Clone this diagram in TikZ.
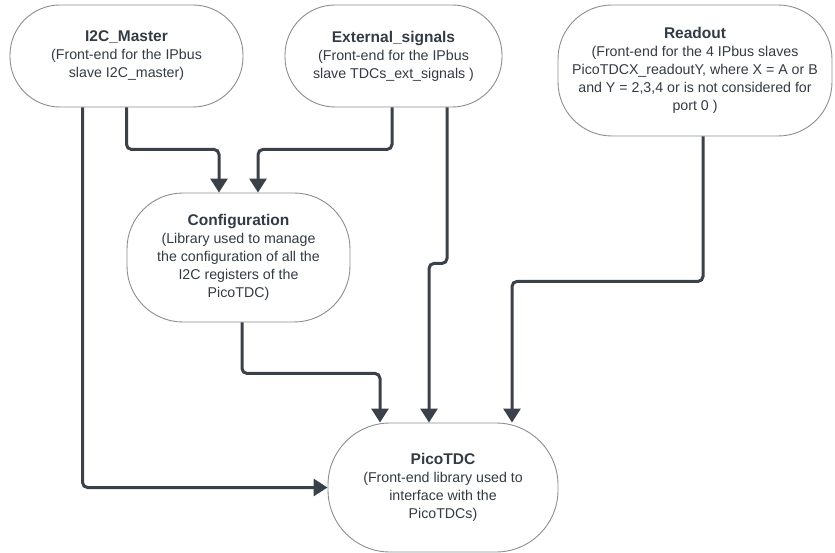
\documentclass[tikz,border=0pt]{standalone}
\usepackage{fontspec}
\setmainfont{Liberation Sans}
\usetikzlibrary{arrows.meta}

\definecolor{inkgray}{HTML}{333B44}
\definecolor{edgegray}{HTML}{8A8D91}
\definecolor{wiregray}{HTML}{3B4149}

\tikzset{
  x=1pt, y=-1pt,
  block/.style={draw=edgegray, line width=0.9pt, fill=white, text=inkgray,
    align=center, inner sep=0pt,
    font=\fontsize{14.2}{18}\selectfont},
  conn/.style={draw=wiregray, line width=3pt, rounded corners=5pt,
    -{Triangle[width=17pt,length=14pt]}},
}
\newcommand{\blocktitle}[1]{{\fontsize{15.5}{18}\selectfont\bfseries #1}}

\begin{document}
\begin{tikzpicture}
\useasboundingbox (0,0) rectangle (835,553);

% blocks
\node[block, minimum width=233pt, minimum height=102pt, rounded corners=50pt]
  (i2c) at (126.5,56)
  {\blocktitle{I2C\_Master}\\(Front-end for the IPbus\\slave I2C\_master)};
\node[block, minimum width=217pt, minimum height=102pt, rounded corners=50pt]
  (ext) at (393.5,56)
  {\blocktitle{External\_signals}\\(Front-end for the IPbus\\slave TDCs\_ext\_signals )};
\node[block, minimum width=274pt, minimum height=131pt, rounded corners=54pt]
  (readout) at (695,70.5)
  {\blocktitle{Readout}\\(Front-end for the 4 IPbus slaves\\PicoTDCX\_readoutY, where X = A or B\\and Y = 2,3,4 or is not considered for\\port 0 )};
\node[block, minimum width=223pt, minimum height=129pt, rounded corners=56pt]
  (config) at (238.5,257.5)
  {\blocktitle{Configuration}\\(Library used to manage\\the configuration of all the\\I2C registers of the\\PicoTDC)};
\node[block, minimum width=230pt, minimum height=129pt, rounded corners=62pt]
  (pico) at (443,487.5)
  {\blocktitle{PicoTDC}\\(Front-end library used to\\interface with the\\PicoTDCs)};

% connectors
\draw[conn] ([xshift=73pt]i2c.south west) |- (pico.west);
\draw[conn] (i2c.south) -- ++(0,42) -| ([xshift=-19.5pt]config.north);
\draw[conn] ([xshift=-1.5pt]ext.south) -- ++(0,42) -| ([xshift=19.5pt]config.north);
\draw[conn] ([xshift=53.5pt]ext.south) -- ++(0,156) -| ([xshift=-14pt]pico.north);
\draw[conn] ([xshift=3.5pt]config.south) -- ++(0,51) -| ([xshift=-63pt]pico.north);
\draw[conn] ([xshift=8pt]readout.south) -- ++(0,145) -| ([xshift=69pt]pico.north);
\end{tikzpicture}
\end{document}
